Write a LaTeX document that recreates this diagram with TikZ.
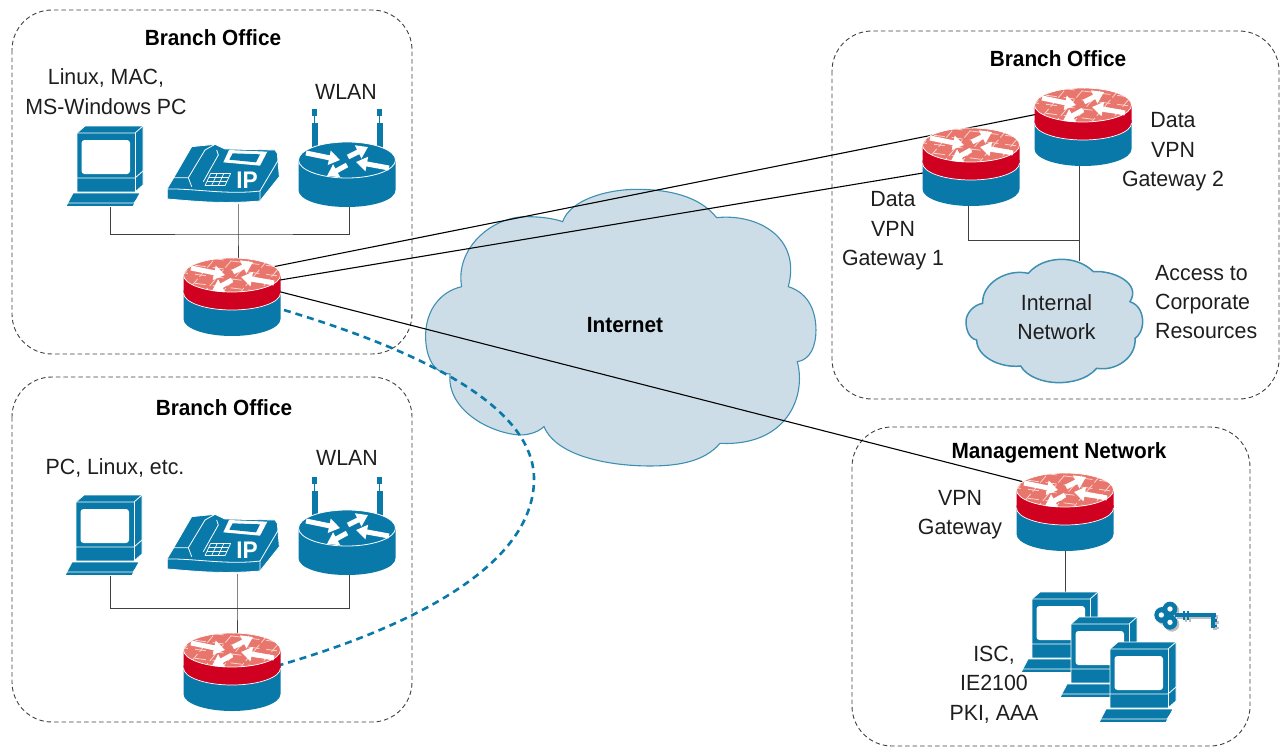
\documentclass[tikz,border=0pt]{standalone}
\usepackage{fontspec}
\setmainfont{Liberation Sans}[FakeStretch=0.97,BoldFeatures={FakeStretch=0.945}]
\usetikzlibrary{arrows.meta}
\definecolor{teal}{HTML}{0879A8}
\definecolor{fwred}{HTML}{CF0020}
\definecolor{fwtop}{HTML}{E8766C}
\definecolor{cloudfill}{HTML}{CDDDE8}
\definecolor{cloudline}{HTML}{3F8FB2}
\definecolor{inktext}{HTML}{1E1E1E}
\tikzset{
  zonebox/.style={draw=black!75,line width=0.9pt,dash pattern=on 4.5pt off 3pt,rounded corners=40pt},
  devbox/.style={rectangle,inner sep=0pt,outer sep=0pt},
  wire/.style={draw=black!75,line width=0.9pt},
  vpnline/.style={draw=black,line width=1.1pt},
  backup/.style={draw=teal,line width=2.6pt,dash pattern=on 7pt off 5pt},
  cloudshape/.style={fill=cloudfill,draw=cloudline},
  label/.style={font=\fontsize{22}{29.3}\selectfont,text=inktext,align=center,inner sep=0pt},
  head/.style={font=\fontsize{22}{29.3}\selectfont\bfseries,text=black,align=center,inner sep=0pt},
  warrow/.style={draw=white,line width=5pt,-{Triangle[length=11pt,width=14pt]}},
  icon/.style={fill=teal,draw=white,line width=0.8pt,line join=round}
}
\newcommand{\fourarrows}{%
  \draw[warrow] (-41,-7) -- (-7,0);
  \draw[warrow] (1,-3) -- (21,-13);
  \draw[warrow] (42,8) -- (9,2);
  \draw[warrow] (0,5) -- (-20,16);
}
\newcommand{\fwicon}[2]{%
\begin{scope}[shift={(#1,#2)}]
  \fill[teal] (-48.5,15) -- (-48.5,44) .. controls (-48.5,53.4) and (-26.8,61) .. (0,61) .. controls (26.8,61) and (48.5,53.4) .. (48.5,44) -- (48.5,15) -- cycle;
  \fill[fwred] (-48.5,0) -- (-48.5,18) .. controls (-48.5,27.4) and (-26.8,35) .. (0,35) .. controls (26.8,35) and (48.5,27.4) .. (48.5,18) -- (48.5,0) -- cycle;
  \draw[white,line width=0.7pt] (-48.5,18) .. controls (-48.5,27.4) and (-26.8,35) .. (0,35) .. controls (26.8,35) and (48.5,27.4) .. (48.5,18);
  \fill[fwtop] (0,0) ellipse [x radius=48.5,y radius=17];
  \begin{scope}
    \clip (0,0) ellipse [x radius=48.5,y radius=17];
    \foreach \i in {-70,-52,...,70} \draw[white!70!fwtop,line width=0.8pt,dash pattern=on 9pt off 3pt] (\i-14,20) -- (\i+20,-20);
    \foreach \j in {-24,-15,...,24} \draw[white!70!fwtop,line width=0.8pt,dash pattern=on 11pt off 7pt] (-55,\j-6) -- (55,\j+8);
  \end{scope}
  \draw[white,line width=0.7pt] (0,0) ellipse [x radius=48.5,y radius=17];
  \fourarrows
\end{scope}}
\newcommand{\wlanicon}[2]{%
\begin{scope}[shift={(#1,#2)}]
  \fill[teal] (-35,-51) rectangle (-30,-44);
  \fill[teal] (30,-51) rectangle (35,-44);
  \draw[teal,line width=0.6pt] (-32.5,-44) -- (-32.5,-37);
  \draw[teal,line width=0.6pt] (32.5,-44) -- (32.5,-37);
  \fill[teal] (-35.5,-37) rectangle (-29.5,-12);
  \fill[teal] (29.5,-37) rectangle (35.5,-12);
  \fill[teal] (-48.5,0) -- (-48.5,30) .. controls (-48.5,40) and (-26.8,47) .. (0,47) .. controls (26.8,47) and (48.5,40) .. (48.5,30) -- (48.5,0) -- cycle;
  \draw[fill=teal,draw=white,line width=0.8pt] (0,0) ellipse [x radius=48.5,y radius=18];
  \fourarrows
\end{scope}}
\newcommand{\pcicon}[2]{%
\begin{scope}[shift={(#1,#2)}]
  \filldraw[icon] (77,133) -- (85,126) -- (143,126) -- (143,185) -- (135,192) -- (77,192) -- cycle;
  \draw[white,line width=0.8pt] (77,133) -- (135,133) -- (143,126);
  \draw[white,line width=0.8pt] (135,133) -- (135,192);
  \draw[white,line width=0.8pt] (77,178) -- (135,178) -- (143,171);
  \fill[white] (81.5,140) [rounded corners=3pt] -- (130,140) -- (130,174) -- (81.5,174) -- cycle;
  \filldraw[icon] (73,193) -- (140,193) -- (133,206.5) -- (66,206.5) -- cycle;
  \draw[white,line width=0.8pt] (68,203) -- (134,203) -- (140,195);
\end{scope}}
\newcommand{\phoneicon}[2]{%
\begin{scope}[shift={(#1,#2)},x=0.3333pt,y=-0.3333pt]
  \filldraw[icon] (22,160) -- (22,192) .. controls (100,198) and (180,208) .. (300,198) -- (358,125) -- (352,55) -- (345,45) -- (195,42) -- (165,28) -- (95,35) -- (40,130) -- cycle;
  \draw[white,line width=0.8pt] (22,162) .. controls (100,160) and (200,180) .. (300,168) -- (300,198);
  \draw[white,line width=0.8pt] (300,168) -- (355,75);
  \draw[white,line width=0.8pt] (40,128) -- (85,128) -- (135,45) -- (165,28);
  \draw[white,line width=0.8pt] (85,128) -- (95,155);
  \draw[white,line width=0.8pt] (170,45) -- (175,60) -- (130,140);
  \fill[white] (190,82) -- (207,45) -- (322,50) -- (300,92) -- cycle;
  \fill[teal] (208,74) -- (218,55) -- (300,58) -- (288,82) -- cycle;
  \foreach \t in {0,0.33,0.66,1} {
    \draw[white,line width=0.7pt] (135+\t*60,152) -- (152+\t*60,115);
    \draw[white,line width=0.7pt] (152-\t*17,115+\t*37) -- (212-\t*17,115+\t*37);
  }
\end{scope}}
\newcommand{\keyshape}[1]{%
  \fill[#1] (487,465) circle [radius=24] (510,447) circle [radius=22] (510,487) circle [radius=22];
  \draw[#1,line width=4.2pt] (525,466) -- (648,466);
  \draw[#1,line width=4.2pt] (640,460) -- (640,505);
  \draw[#1,line width=2.8pt] (640,482) -- (652,482) (640,498) -- (652,498);
  \draw[#1,line width=1.8pt] (552,452) -- (552,480) (565,452) -- (565,480);
}
\newcommand{\cloudbig}{%
  (458,155) .. controls (480,90) and (590,58) .. (680,58)
  .. controls (780,58) and (870,80) .. (920,143)
  .. controls (1040,130) and (1175,200) .. (1135,350)
  .. controls (1200,370) and (1218,430) .. (1218,480)
  .. controls (1218,530) and (1200,570) .. (1162,575)
  .. controls (1190,680) and (1130,830) .. (930,820)
  .. controls (880,880) and (790,888) .. (720,888)
  .. controls (600,888) and (440,860) .. (402,770)
  .. controls (380,790) and (350,795) .. (330,795)
  .. controls (240,790) and (110,720) .. (120,612)
  .. controls (60,610) and (45,540) .. (47,490)
  .. controls (50,420) and (90,365) .. (155,350)
  .. controls (135,240) and (240,140) .. (350,140)
  .. controls (390,140) and (430,145) .. (458,155) -- cycle}
\newcommand{\cloudsmall}{%
  (235,100) .. controls (260,70) and (300,58) .. (335,58)
  .. controls (370,58) and (405,70) .. (430,95)
  .. controls (490,90) and (575,130) .. (540,185)
  .. controls (570,195) and (578,225) .. (578,245)
  .. controls (578,270) and (565,290) .. (555,295)
  .. controls (560,350) and (500,395) .. (440,385)
  .. controls (410,420) and (360,428) .. (325,428)
  .. controls (280,428) and (230,410) .. (212,378)
  .. controls (150,385) and (80,350) .. (80,300)
  .. controls (55,295) and (48,265) .. (48,245)
  .. controls (48,220) and (70,195) .. (98,190)
  .. controls (95,130) and (170,85) .. (235,100) -- cycle}
\begin{document}
\begin{tikzpicture}[x=1pt,y=-1pt]
\useasboundingbox (0,0) rectangle (1281,747);
% zones
\draw[zonebox] (12,10) rectangle (412,354);
\draw[zonebox] (12,377) rectangle (412,722);
\draw[zonebox] (832,31) rectangle (1279,399);
\draw[zonebox] (852,427) rectangle (1250,746);
% clouds
\begin{scope}[shift={(410,170)},x=0.3333pt,y=-0.3333pt]
  \path[cloudshape,line width=1.1pt] \cloudbig;
\end{scope}
\begin{scope}[shift={(950,240)},x=0.3333pt,y=-0.3333pt]
  \path[cloudshape,line width=1.5pt] \cloudsmall;
\end{scope}
\node[devbox,minimum width=380pt,minimum height=270pt] (internet) at (622,328) {};
\node[devbox,minimum width=176pt,minimum height=124pt] (internal) at (1054,323) {};
% device anchors
\node[devbox,minimum width=76pt,minimum height=80pt] (pcA) at (105,166) {};
\node[devbox,minimum width=112pt,minimum height=58pt] (phoneA) at (224,175) {};
\node[devbox,minimum width=97pt,minimum height=98pt] (wlanA) at (348,158) {};
\node[devbox,minimum width=97pt,minimum height=78pt] (fwA) at (232,297) {};
\node[devbox,minimum width=76pt,minimum height=80pt] (pcB) at (104,535) {};
\node[devbox,minimum width=112pt,minimum height=58pt] (phoneB) at (223,545) {};
\node[devbox,minimum width=97pt,minimum height=98pt] (wlanB) at (348,526) {};
\node[devbox,minimum width=97pt,minimum height=78pt] (fwB) at (232,672) {};
\node[devbox,minimum width=97pt,minimum height=78pt] (gwOne) at (971,167) {};
\node[devbox,minimum width=97pt,minimum height=78pt] (gwTwo) at (1083,127) {};
\node[devbox,minimum width=97pt,minimum height=78pt] (gwMgmt) at (1065,512) {};
\node[devbox,minimum width=156pt,minimum height=130pt] (pcsMgmt) at (1100,657) {};
% junctions and line ends behind the devices
\coordinate (jA) at (238,234);
\coordinate (jB) at (237,608);
\coordinate (jC) at (1079,240);
\coordinate (aOne) at (232,275);
\coordinate (aTwo) at (232,288);
\coordinate (aThree) at (232,279.5);
\coordinate (bOne) at (1083,105);
\coordinate (bTwo) at (971,165);
\coordinate (bThree) at (1065,492.5);
% connectors
\draw[wire] ([xshift=5pt]pcA.south) |- (jA) -| ([xshift=1pt]wlanA.south);
\draw[wire] (jA |- phoneA.south) -- (jA) -- (jA |- fwA.north);
\draw[wire] ([xshift=6pt]pcB.south) |- (jB) -| ([xshift=1pt]wlanB.south);
\draw[wire] (jB |- phoneB.south) -- (jB) -- (jB |- fwB.north);
\draw[wire] (jC |- gwTwo.south) -- (jC) -- (jC |- internal.north);
\draw[wire] ([xshift=-3pt]gwOne.south) |- (jC);
\draw[wire] (gwMgmt.south) -- (gwMgmt.south |- pcsMgmt.north);
\draw[vpnline] (aOne) -- (bOne);
\draw[vpnline] (aTwo) -- (bTwo);
\draw[vpnline] (aThree) -- (bThree);
\draw[backup] ([shift={(52pt,-13pt)}]fwA.center) .. controls (400,345) and (535,400) .. (534,480) .. controls (533,570) and (400,630) .. ([shift={(48pt,7pt)}]fwB.center);
% devices
\pcicon{0}{0}
\phoneicon{160}{135}
\wlanicon{347}{160}
\fwicon{232}{275}
\pcicon{-1}{369}
\phoneicon{160}{505}
\wlanicon{347}{528}
\fwicon{232}{650}
\fwicon{971}{145}
\fwicon{1083}{105}
\fwicon{1065}{490}
\pcicon{955}{466}
\pcicon{994}{491}
\pcicon{1033}{516}
% IP marks
\node[font=\fontsize{24}{24}\selectfont\bfseries,text=white,inner sep=0pt] (ipA) at (247,180) {IP};
\node[font=\fontsize{24}{24}\selectfont\bfseries,text=white,inner sep=0pt] (ipB) at (247,550) {IP};
% key
\begin{scope}[shift={(1000,460)},x=0.3333pt,y=-0.3333pt]
  \begin{scope}[shift={(6,6)}]\keyshape{black!25}\end{scope}
  \keyshape{teal}
  \fill[white] (484,465) circle [radius=8] (510,447) circle [radius=8] (510,487) circle [radius=8];
\end{scope}
% labels
\node[head] (t1) at (213,38) {Branch Office};
\node[label] (t2) at (106,91.5) {Linux, MAC,\\MS-Windows PC};
\node[label] (t3) at (346,92) {WLAN};
\node[head] (t4) at (1058,59) {Branch Office};
\node[label] (t5) at (1173,152) {Data\\VPN\\Gateway 2};
\node[label] (t6) at (893,231) {Data\\VPN\\Gateway 1};
\node[head] (t7) at (625,325) {Internet};
\node[label] (t8) at (1056.5,317) {Internal\\Network};
\node[label,align=left,anchor=west] (t9) at (1155,302) {Access to\\Corporate\\Resources};
\node[head] (t10) at (224,408) {Branch Office};
\node[label] (t11) at (115,468) {PC, Linux, etc.};
\node[label] (t12) at (347,458) {WLAN};
\node[head] (t13) at (1059,452.5) {Management Network};
\node[label] (t14) at (960,514.5) {VPN\\Gateway};
\node[label] (t15) at (994,684.5) {ISC,\\IE2100\\PKI, AAA};
\end{tikzpicture}
\end{document}
